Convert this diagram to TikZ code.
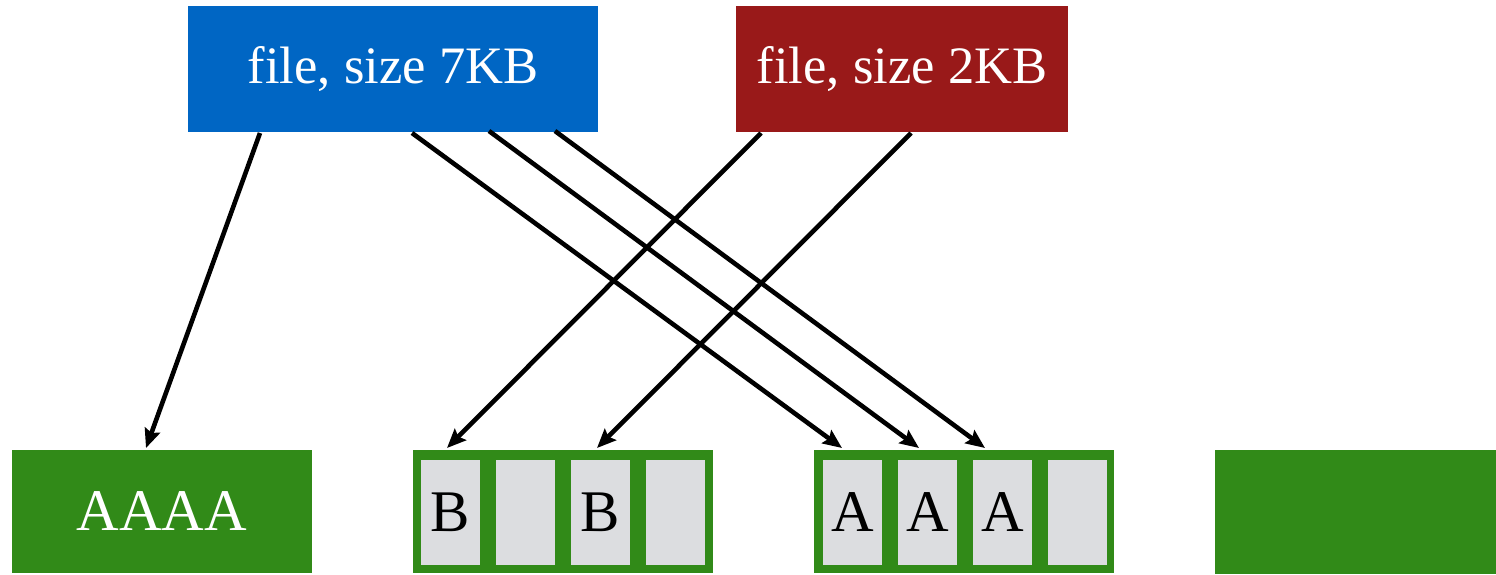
\documentclass[tikz,border=0pt]{standalone}
\usepackage{fontspec}
\setmainfont{Liberation Serif}
\usetikzlibrary{arrows.meta}
\definecolor{fblue}{RGB}{0,102,196}
\definecolor{fred}{RGB}{153,25,25}
\definecolor{fgreen}{RGB}{49,138,24}
\definecolor{slotgray}{RGB}{220,221,224}
\begin{document}
\begin{tikzpicture}[x=0.5pt,y=-0.5pt,
  filebox/.style={draw=none, inner sep=0pt, minimum height=63pt, text=white, font=\fontsize{26.3}{30}\selectfont},
  blockbox/.style={draw=none, fill=fgreen, inner sep=0pt, minimum width=150pt, minimum height=61.5pt},
  slotbox/.style={draw=none, fill=slotgray, inner sep=0pt, minimum width=29.5pt, minimum height=52.5pt, font=\fontsize{29.5}{32}\selectfont},
  conn/.style={line width=2.3pt, -{Stealth[length=9.5pt,width=8pt,inset=1.5pt]}}
]
\useasboundingbox (0,0) rectangle (1496,574);

% file boxes
\node[filebox, fill=fblue, minimum width=205pt] (f7) at (393,69) {file, size 7KB};
\node[filebox, fill=fred, minimum width=166pt] (f2) at (902,69) {file, size 2KB};

% blocks
\node[blockbox, text=white, font=\fontsize{29.5}{32}\selectfont] (g1) at (162,511.5) {AAAA};
\node[blockbox] (g2) at (563,511.5) {};
\node[blockbox] (g3) at (964,511.5) {};
\node[draw=none, fill=fgreen, inner sep=0pt, minimum width=140.5pt, minimum height=62pt] (g4) at (1355.5,512) {};

% slots in block 2
\node[slotbox] (s21) at (450.5,512.5) {B};
\node[slotbox] (s22) at (525.5,512.5) {};
\node[slotbox] (s23) at (600.5,512.5) {B};
\node[slotbox] (s24) at (675.5,512.5) {};
% slots in block 3
\node[slotbox] (s31) at (852.5,512.5) {A};
\node[slotbox] (s32) at (927.5,512.5) {A};
\node[slotbox] (s33) at (1002.5,512.5) {A};
\node[slotbox] (s34) at (1077.5,512.5) {};

% connector endpoints
\coordinate (a1s) at (260,133);  \coordinate (a1e) at (146,448);
\coordinate (a2s) at (412,133);  \coordinate (a2e) at (842,448);
\coordinate (a3s) at (489,131);  \coordinate (a3e) at (919,448);
\coordinate (a4s) at (555,131);  \coordinate (a4e) at (985,448);
\coordinate (a5s) at (761,133);  \coordinate (a5e) at (447,448);
\coordinate (a6s) at (911,133);  \coordinate (a6e) at (597,448);

\draw[conn] (a1s) -- (a1e);
\draw[conn] (a2s) -- (a2e);
\draw[conn] (a3s) -- (a3e);
\draw[conn] (a4s) -- (a4e);
\draw[conn] (a5s) -- (a5e);
\draw[conn] (a6s) -- (a6e);
\end{tikzpicture}
\end{document}
